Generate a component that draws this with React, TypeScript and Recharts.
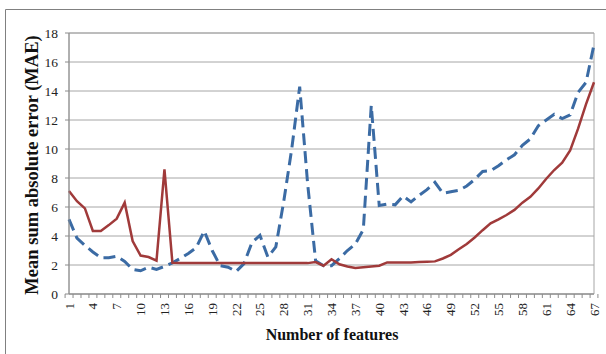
import React from "react";
import {
  LineChart,
  Line,
  XAxis,
  YAxis,
  CartesianGrid,
  ReferenceArea,
} from "recharts";

// number of features 1..67
const features = Array.from({ length: 67 }, (_, i) => String(i + 1));

// solid red series
const redValues = [
  7.1, 6.4, 5.9, 4.35, 4.35, 4.75, 5.2, 6.3, 3.65, 2.65, 2.55, 2.3, 8.6, 2.15,
  2.13, 2.13, 2.13, 2.13, 2.13, 2.13, 2.13, 2.13, 2.13, 2.13, 2.13, 2.13, 2.13,
  2.13, 2.13, 2.13, 2.13,
  2.2, 1.95, 2.4, 2.05, 1.9, 1.8, 1.85, 1.9, 1.95, 2.18, 2.18, 2.18, 2.18, 2.2,
  2.22, 2.25, 2.45, 2.7, 3.08, 3.45, 3.9, 4.4, 4.87, 5.15, 5.45, 5.8, 6.3, 6.7,
  7.28, 7.95, 8.55, 9.05, 9.9, 11.4, 13.1, 14.6,
];

// dashed blue series
const blueValues = [
  5.15, 3.85, 3.35, 2.9, 2.5, 2.5, 2.6, 2.25, 1.7, 1.6, 1.85, 1.7, 1.9, 2.15,
  2.45, 2.8, 3.2, 4.35, 3.0, 1.95, 1.85, 1.55, 2.1, 3.55, 4.05, 2.55, 3.25, 6.4,
  10.0, 14.3, 7.6, 2.3, 1.95, 1.95, 2.45, 3.0, 3.45, 4.45, 13.0, 6.1, 6.2, 6.15,
  6.75, 6.35, 6.8, 7.2, 7.7, 6.95, 7.05, 7.15, 7.45, 7.9, 8.45, 8.5, 8.85, 9.25,
  9.6, 10.25, 10.7, 11.6, 12.0, 12.4, 12.1, 12.35, 13.9, 14.6, 17.2,
];

const yTicks = [0, 2, 4, 6, 8, 10, 12, 14, 16, 18];

const data = features.map((f, i) => ({
  f,
  red: redValues[i],
  blue: blueValues[i],
}));

const FONT = "'Liberation Serif', 'Times New Roman', serif";
const PLOT_LEFT = 69;
const PLOT_RIGHT = 12;
const BAND = (606 - PLOT_LEFT - PLOT_RIGHT) / features.length;

function XTick(props: any) {
  const { x, y, index, payload } = props;
  const bx = x - BAND / 2;
  const ty = y + 9;
  return (
    <g>
      <line x1={bx} y1={y} x2={bx} y2={y + 4} stroke="#8c8c8c" />
      {index === features.length - 1 && (
        <line x1={x + BAND / 2} y1={y} x2={x + BAND / 2} y2={y + 4} stroke="#8c8c8c" />
      )}
      {index % 3 === 0 && (
        <text
          x={x}
          y={ty}
          transform={`rotate(-90 ${x} ${ty})`}
          textAnchor="end"
          dominantBaseline="central"
          fontFamily={FONT}
          fontSize={13}
          fill="#222"
        >
          {payload.value}
        </text>
      )}
    </g>
  );
}

export default function App() {
  return (
    <div
      style={{
        position: "fixed",
        left: 0,
        top: 0,
        width: 606,
        height: 354,
        overflow: "hidden",
        background: "#fff",
      }}
    >
      <div style={{ position: "absolute", left: 0, top: 0 }}>
        <LineChart
          width={606}
          height={354}
          data={data}
          margin={{ top: 33, right: PLOT_RIGHT, bottom: 0, left: 9 }}
        >
          <CartesianGrid horizontal vertical={false} stroke="#a6a6a6" />
          <ReferenceArea y1={0} y2={18} fill="none" stroke="#a6a6a6" />
          <XAxis
            dataKey="f"
            interval={0}
            height={60}
            tickSize={0}
            tickMargin={0}
            tickLine={false}
            axisLine={{ stroke: "#8c8c8c" }}
            tick={<XTick />}
          />
          <YAxis
            width={60}
            domain={[0, 18]}
            ticks={yTicks}
            tickSize={4}
            tickMargin={7}
            axisLine={{ stroke: "#8c8c8c" }}
            tickLine={{ stroke: "#8c8c8c" }}
            tick={{ fontFamily: FONT, fontSize: 13.5, fill: "#222" }}
          />
          <Line
            type="linear"
            dataKey="blue"
            stroke="#3b6ba4"
            strokeWidth={3}
            strokeDasharray="12 6"
            dot={false}
            isAnimationActive={false}
          />
          <Line
            type="linear"
            dataKey="red"
            stroke="#a03a3a"
            strokeWidth={2.5}
            dot={false}
            isAnimationActive={false}
          />
        </LineChart>
      </div>
      <svg
        width={606}
        height={354}
        style={{ position: "absolute", left: 0, top: 0, pointerEvents: "none" }}
      >
        <path d="M5.5 360 V9.5 H610" fill="none" stroke="#808080" strokeWidth={1} />
        <text
          x={32}
          y={165}
          transform="rotate(-90 32 165)"
          textAnchor="middle"
          dominantBaseline="central"
          fontFamily={FONT}
          fontWeight="bold"
          fontSize={18.5}
          fill="#111"
        >
          Mean sum absolute error (MAE)
        </text>
        <text
          x={332}
          y={340}
          textAnchor="middle"
          fontFamily={FONT}
          fontWeight="bold"
          fontSize={16}
          fill="#111"
        >
          Number of features
        </text>
      </svg>
    </div>
  );
}
